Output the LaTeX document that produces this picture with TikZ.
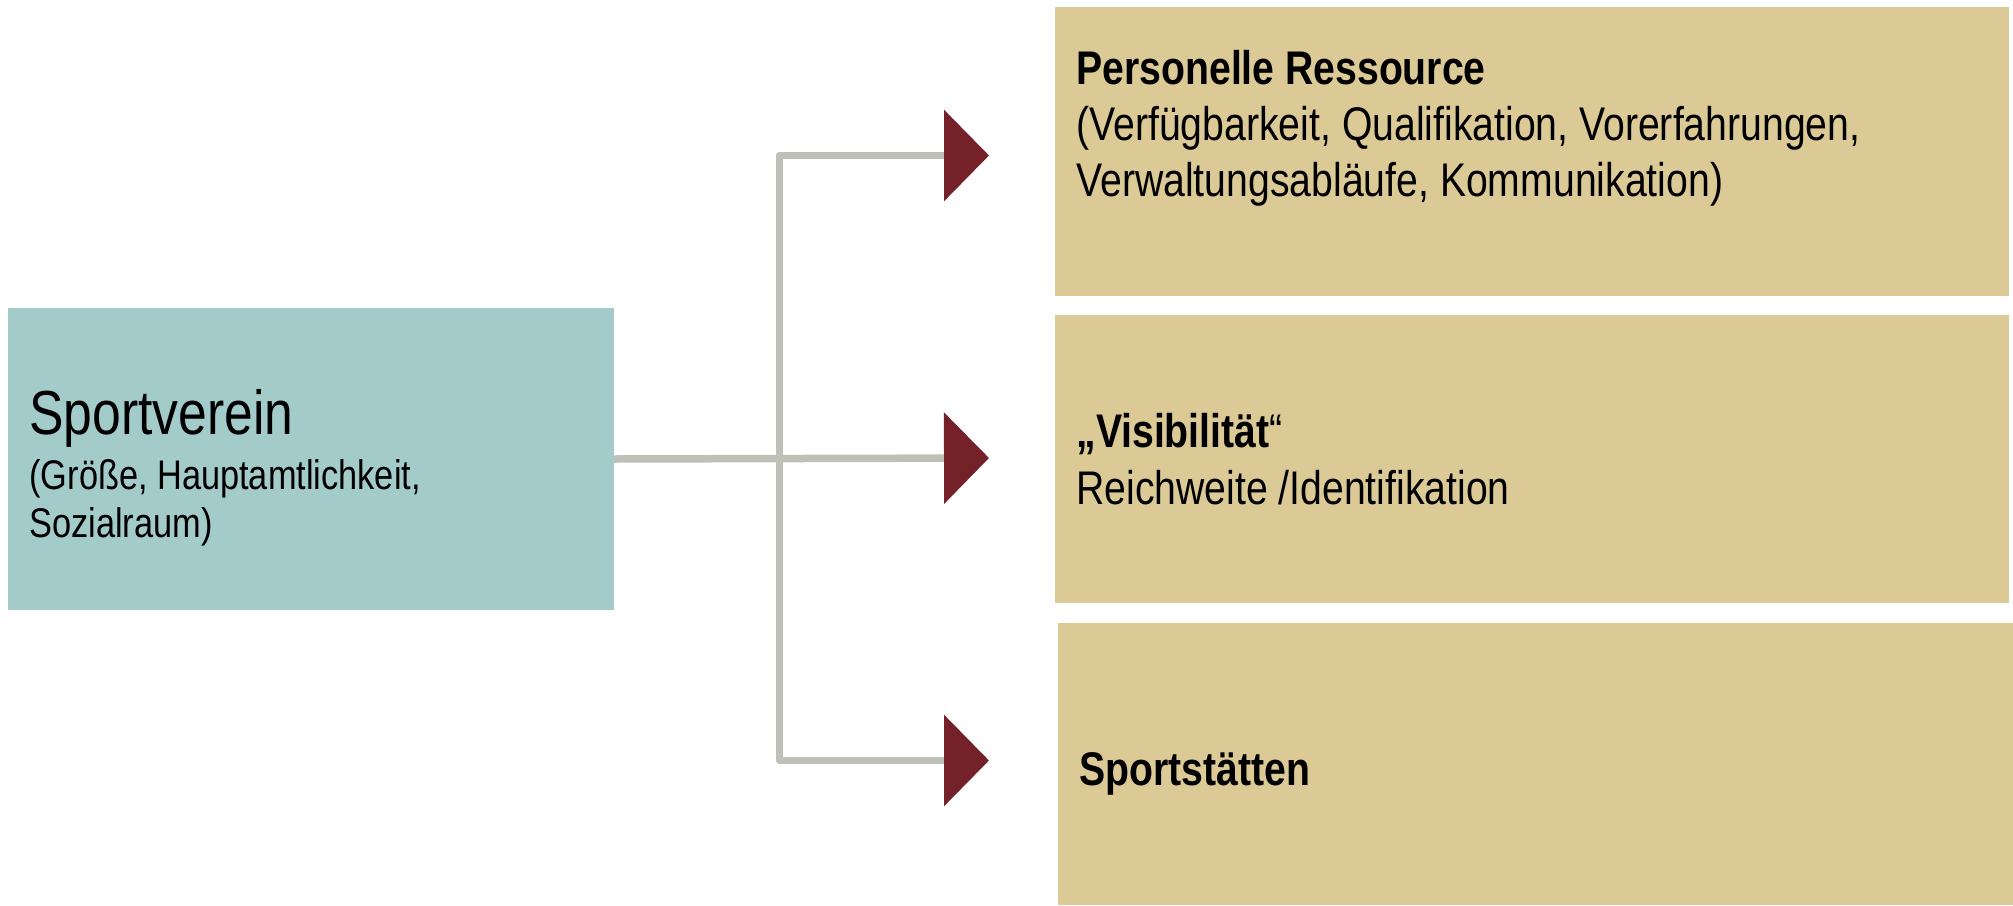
\documentclass[tikz,border=0pt]{standalone}
\usepackage{fontspec}
\setmainfont{Liberation Sans}[FakeStretch=0.83]
\usetikzlibrary{arrows.meta}
\definecolor{vereinfill}{HTML}{A3CBC9}
\definecolor{resfill}{HTML}{DBCA96}
\definecolor{linkgray}{HTML}{BFC1B9}
\definecolor{tipred}{HTML}{74212A}
\begin{document}
\begin{tikzpicture}[x=0.5pt,y=-0.5pt,
  box/.style={draw=none,inner sep=0pt,outer sep=0pt,anchor=north west},
  % multi-line texts sit on the baseline of their last line
  txt/.style={anchor=base west,inner sep=0pt,align=left},
  link/.style={draw=linkgray,line width=3.75pt,line join=round},
  tipped/.style={-{Triangle[length=22.5pt,width=45pt,color=tipred]}}]
\useasboundingbox (0,0) rectangle (2013,905);
\fill[white] (0,0) rectangle (2013,905);

% boxes
\node[box,fill=vereinfill,minimum width=303pt,minimum height=151pt] (verein) at (8,308) {};
\node[box,fill=resfill,minimum width=477pt,minimum height=144.5pt] (pers) at (1055,7) {};
\node[box,fill=resfill,minimum width=477pt,minimum height=144pt] (vis) at (1055,315) {};
\node[box,fill=resfill,minimum width=477.5pt,minimum height=141pt] (sport) at (1058,623) {};

% texts
\node[txt,font=\fontsize{31.1}{36}\selectfont] (vtitle) at (29,434) {Sportverein};
\node[txt,font=\fontsize{20.7}{24}\selectfont] (vsub) at (29,537) {(Größe, Hauptamtlichkeit,\\Sozialraum)};
\node[txt,font=\fontsize{23.6}{28}\selectfont] (perstext) at (1076,196)
  {\textbf{Personelle Ressource}\\(Verfügbarkeit, Qualifikation, Vorerfahrungen,\\Verwaltungsabläufe, Kommunikation)};
\node[txt,font=\fontsize{23.6}{28.5}\selectfont] (vistext) at (1076,504)
  {\textbf{„Visibilität}“\\Reichweite /Identifikation};
\node[txt,font=\fontsize{23.6}{28}\selectfont] (sporttext) at (1079,785) {\textbf{Sportstätten}};

% connectors
\coordinate (fork) at (779.5,459);
\coordinate (tipA) at (989,155.5);
\coordinate (tipB) at (989,458);
\coordinate (tipC) at (989,760.5);
\draw[link,tipped] (verein.east) -- (tipB);
\draw[link,tipped] (fork) |- (tipA);
\draw[link,tipped] (fork) |- (tipC);
\end{tikzpicture}
\end{document}
